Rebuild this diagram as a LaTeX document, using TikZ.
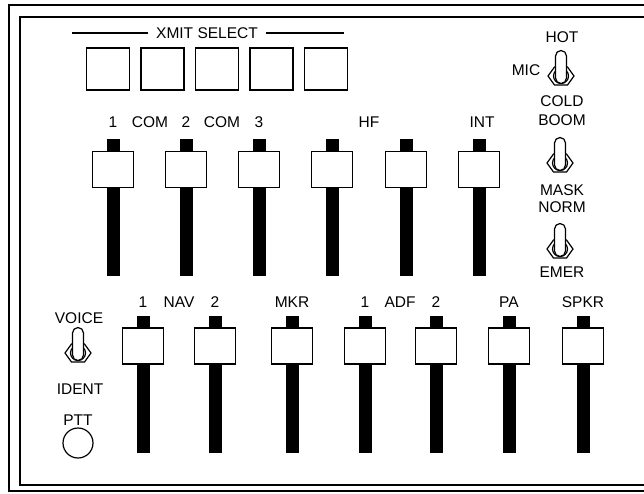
\documentclass[tikz,border=0pt]{standalone}
\usepackage{fontspec}
\setmainfont{Liberation Sans}
\usepackage{tikz}

\newcommand{\toggleat}[1]{%
  \begin{scope}[shift={(#1)}]
    \draw (-13,0) -- (-6.5,-9) -- (6.5,-9) -- (13,0) -- (6.5,9) -- (-6.5,9) -- cycle;
    \draw (0,0) circle (7.5);
    \draw[fill=white] (-5.5,2) -- (-5.5,-20) arc[start angle=180, end angle=360, radius=5.5]
      -- (5.5,2) arc[start angle=0, end angle=180, radius=5.5];
  \end{scope}}

\begin{document}
\begin{tikzpicture}[x=1pt, y=-1pt, line width=1.2pt,
    knob/.style={draw, fill=white, line width=1.5pt, minimum width=41pt, minimum height=36pt, inner sep=0pt},
    key/.style={draw, line width=1.3pt, minimum width=43pt, minimum height=42pt, inner sep=0pt},
    lbl/.style={font=\fontsize{15.5}{18}\selectfont, inner sep=0pt}]
    \useasboundingbox (0,0) rectangle (644,493);

    % 外框
    \draw[line width=1.6pt] (650,5) -- (9,5) -- (9,491) -- (650,491);
    \draw[line width=1.8pt] (650,17) -- (20,17) -- (20,485) -- (650,485);

    % XMIT SELECT
    \node[lbl] (xmit) at (207,33) {XMIT SELECT};
    \coordinate (xl) at (72,33);
    \coordinate (xr) at (344,33);
    \draw (xl) -- ([xshift=-8pt]xmit.west);
    \draw ([xshift=8pt]xmit.east) -- (xr);
    \node[key] (s1) at (108,69) {};
    \node[key] (s2) at (162.5,69) {};
    \node[key] (s3) at (217,69) {};
    \node[key] (s4) at (271.5,69) {};
    \node[key] (s5) at (326,69) {};

    % 上排推杆
    \node[lbl] (t1lbl) at (113,122) {1};
    \node[lbl] (com1) at (150,122) {COM};
    \node[lbl] (t2lbl) at (186,122) {2};
    \node[lbl] (com2) at (222,122) {COM};
    \node[lbl] (t3lbl) at (259,122) {3};
    \node[lbl] (hf) at (369,122) {HF};
    \node[lbl] (int) at (482,122) {INT};
    \fill (106.5,139) rectangle (119.5,276);
    \node[knob] (t1) at (113,169.5) {};
    \fill (179.5,139) rectangle (192.5,276);
    \node[knob] (t2) at (186,169.5) {};
    \fill (252.5,139) rectangle (265.5,276);
    \node[knob] (t3) at (259,169.5) {};
    \fill (325.5,139) rectangle (338.5,276);
    \node[knob] (t4) at (332,169.5) {};
    \fill (399.5,139) rectangle (412.5,276);
    \node[knob] (t5) at (406,169.5) {};
    \fill (472.5,139) rectangle (485.5,276);
    \node[knob] (t6) at (479,169.5) {};

    % 下排推杆
    \node[lbl] (b1lbl) at (143,302) {1};
    \node[lbl] (nav) at (179,302) {NAV};
    \node[lbl] (b2lbl) at (215,302) {2};
    \node[lbl] (mkr) at (292,302) {MKR};
    \node[lbl] (b4lbl) at (365,302) {1};
    \node[lbl] (adf) at (400,302) {ADF};
    \node[lbl] (b5lbl) at (436,302) {2};
    \node[lbl] (pa) at (509,302) {PA};
    \node[lbl] (spkr) at (583,302) {SPKR};
    \fill (136.5,316) rectangle (149.5,453);
    \node[knob] (b1) at (143,346) {};
    \fill (208.5,316) rectangle (221.5,453);
    \node[knob] (b2) at (215,346) {};
    \fill (285.5,316) rectangle (298.5,453);
    \node[knob] (b3) at (292,346) {};
    \fill (358.5,316) rectangle (371.5,453);
    \node[knob] (b4) at (365,346) {};
    \fill (429.5,316) rectangle (442.5,453);
    \node[knob] (b5) at (436,346) {};
    \fill (502.5,316) rectangle (515.5,453);
    \node[knob] (b6) at (509,346) {};
    \fill (576.5,316) rectangle (589.5,453);
    \node[knob] (b7) at (583,346) {};

    % 左侧开关
    \node[lbl] (voice) at (79,318) {VOICE};
    \coordinate (vt) at (78,353);
    \toggleat{vt}
    \node[lbl] (ident) at (80,389) {IDENT};
    \node[lbl] (pttlbl) at (78,420) {PTT};
    \node[draw, circle, minimum size=30pt, inner sep=0pt] (ptt) at (78,443) {};

    % 右侧开关
    \node[lbl] (hot) at (562,37) {HOT};
    \node[lbl] (mic) at (526,70) {MIC};
    \coordinate (mt) at (561,76);
    \toggleat{mt}
    \node[lbl] (cold) at (562,101) {COLD};
    \node[lbl] (boom) at (562,120) {BOOM};
    \coordinate (bt) at (560,163);
    \toggleat{bt}
    \node[lbl] (mask) at (562,190) {MASK};
    \node[lbl] (norm) at (562,207) {NORM};
    \coordinate (et) at (560,249);
    \toggleat{et}
    \node[lbl] (emer) at (562,272) {EMER};
\end{tikzpicture}
\end{document}
